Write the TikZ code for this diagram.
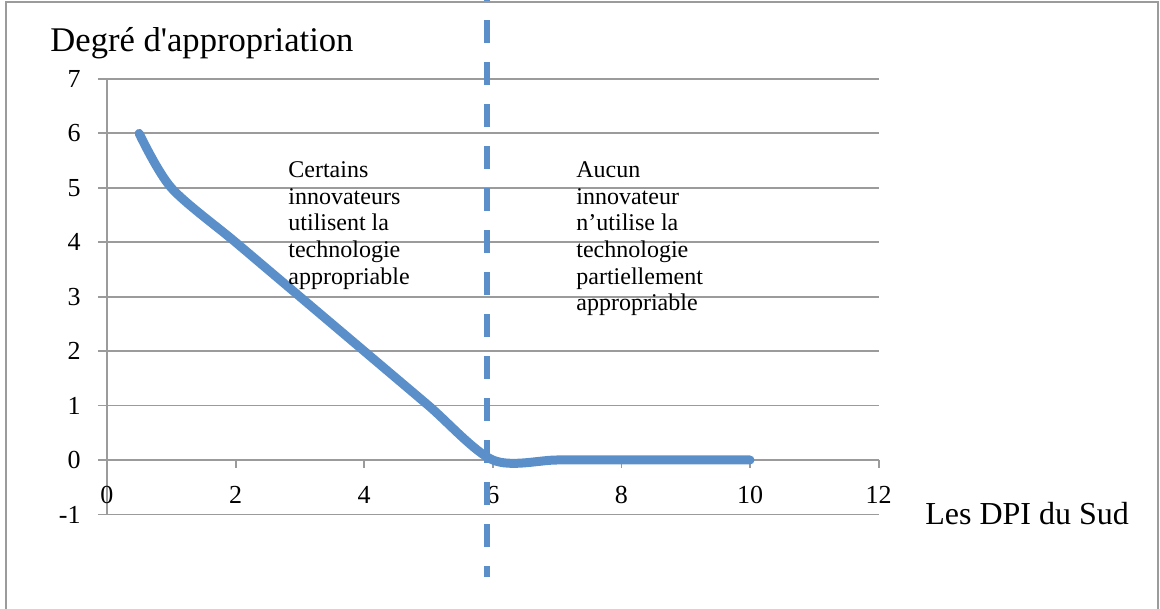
\documentclass[tikz,border=0pt]{standalone}
\usepackage{fontspec}
\setmainfont{Liberation Serif}
\usetikzlibrary{positioning}
\definecolor{curveblue}{RGB}{90,143,201}
\definecolor{gridgray}{RGB}{155,155,155}

\begin{document}
\begin{tikzpicture}[x=32.15pt, y=27.215pt,
    gridline/.style={draw=gridgray, line width=0.9pt},
    ticklabel/.style={inner sep=0pt, font=\fontsize{13}{15}\selectfont},
    axistitle/.style={inner sep=0pt, font=\fontsize{17}{19}\selectfont},
    note/.style={inner sep=0pt, align=left, font=\fontsize{12}{13.35}\selectfont},
    curve/.style={draw=curveblue, line width=4.5pt, line cap=round, line join=round},
    split/.style={draw=curveblue, line width=3pt, dash pattern=on 11.5pt off 9.5pt}
]
    \useasboundingbox (-1.664,-2.737) rectangle (16.376,8.451);

    % Outer frame
    \draw[gridgray, line width=1pt] (-1.571,-3) -- (-1.571,8.415) -- (16.345,8.415) -- (16.345,-3);

    % Gridlines and axes
    \foreach \y in {-1,...,7}
        \draw[gridline] (-0.14,\y) -- (12,\y);
    \draw[gridline] (0,-1) -- (0,7);
    \foreach \x in {2,4,...,12}
        \draw[gridline] (\x,0) -- (\x,-0.15);

    % Tick labels
    \foreach \y in {-1,...,7}
        \node[ticklabel, anchor=east] (ylab\y) at (-0.404,\y) {\y};
    \foreach \x in {0,2,...,12}
        \node[ticklabel, anchor=base] (xlab\x) at (\x,-0.808) {\x};

    % Curve
    \draw[curve] plot[smooth, tension=0.5] coordinates {(0.5,6) (1,5) (2,4) (3,3) (4,2) (5,1) (6,0) (7,0) (8,0) (9,0) (10,0)};

    % Separation line
    \draw[split] (5.91,8.855) -- (5.91,-2.15);

    % Axis titles
    \node[axistitle, font=\fontsize{17.3}{19}\selectfont, anchor=base west] (ytitle) at (-0.886,7.496) {Degré d\textquotesingle appropriation};
    \node[axistitle, font=\fontsize{16}{19}\selectfont, anchor=base west] (xtitle) at (12.72,-1.194) {Les DPI du Sud};

    % Annotations
    \node[note, anchor=north west] (certains) at (2.815,5.49) {Certains\\innovateurs\\utilisent la\\technologie\\appropriable};
    \node[note, anchor=north west] (aucun) at (7.294,5.49) {Aucun\\innovateur\\n’utilise la\\technologie\\partiellement\\appropriable};
\end{tikzpicture}
\end{document}
